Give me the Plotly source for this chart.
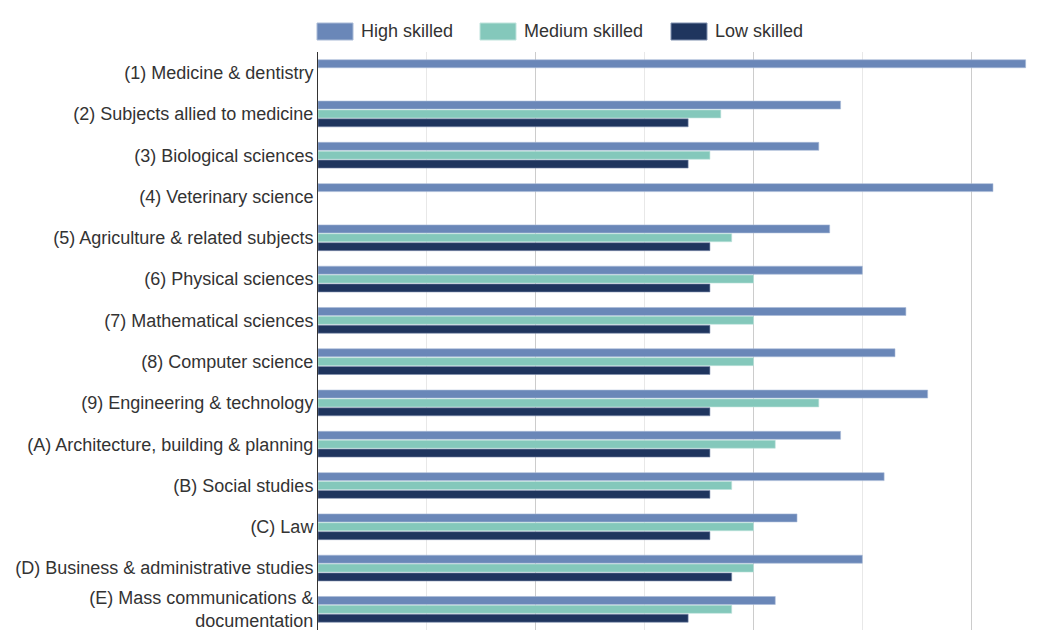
import plotly.graph_objects as go

categories = [
    "(1) Medicine & dentistry",
    "(2) Subjects allied to medicine",
    "(3) Biological sciences",
    "(4) Veterinary science",
    "(5) Agriculture & related subjects",
    "(6) Physical sciences",
    "(7) Mathematical sciences",
    "(8) Computer science",
    "(9) Engineering & technology",
    "(A) Architecture, building & planning",
    "(B) Social studies",
    "(C) Law",
    "(D) Business & administrative studies",
    "(E) Mass communications &<br>documentation",
]

high_skilled = [32.5, 24, 23, 31, 23.5, 25, 27, 26.5, 28, 24, 26, 22, 25, 21]
medium_skilled = [None, 18.5, 18, None, 19, 20, 20, 20, 23, 21, 19, 20, 20, 19]
low_skilled = [None, 17, 17, None, 18, 18, 18, 18, 18, 18, 18, 18, 19, 17]

series_names = ["High skilled", "Medium skilled", "Low skilled"]
series_values = [high_skilled, medium_skilled, low_skilled]
series_colors = ["#6a87b8", "#84c8bb", "#1f355e"]
border_colors = ["#a9bad6", "#bfe3dc", "#7f8fae"]

FONT = "Liberation Sans, Arial, sans-serif"
W, H = 1048, 630
ml, mr, mt, mb = 318, 18, 52, 0
pw = W - ml - mr
ph = H - mt - mb

fig = go.Figure()
for name, vals, col, bcol in zip(series_names, series_values, series_colors, border_colors):
    fig.add_trace(go.Bar(
        y=categories, x=vals, name=name, orientation="h",
        marker=dict(color=col, line=dict(color=bcol, width=0.6)),
        showlegend=False,
    ))

# custom legend (wide swatches like the reference)
legend_px = [317, 480, 671]
for name, col, bcol, px in zip(series_names, series_colors, border_colors, legend_px):
    fig.add_shape(type="rect", xref="paper", yref="paper",
                  x0=(px - ml) / pw, x1=(px + 36 - ml) / pw,
                  y0=(H - 40 - mb) / ph, y1=(H - 23 - mb) / ph,
                  line=dict(color=bcol, width=1), fillcolor=col)
    fig.add_annotation(xref="paper", yref="paper", x=(px + 42 - ml) / pw, y=(H - 31.5 - mb) / ph,
                       text=name, showarrow=False, xanchor="left", yanchor="middle",
                       font=dict(family=FONT, size=18, color="#333333"))

fig.update_layout(
    width=W, height=H,
    margin=dict(l=ml, r=mr, t=mt, b=mb, pad=0),
    paper_bgcolor="white", plot_bgcolor="white",
    barmode="group", bargap=0.355, bargroupgap=0.1,
    font=dict(family=FONT, size=18, color="#333333"),
    xaxis=dict(range=[0, 32.7], dtick=10, showgrid=True, gridcolor="#cccccc", gridwidth=1,
               minor=dict(dtick=5, showgrid=True, gridcolor="#e8e8e8", gridwidth=1),
               showticklabels=False, zeroline=False, showline=False, fixedrange=True),
    yaxis=dict(autorange="reversed", showline=True, linecolor="#333333", linewidth=1,
               ticks="", showgrid=False,
               tickfont=dict(family=FONT, size=18, color="#333333")),
)

fig.write_html("out.html")
